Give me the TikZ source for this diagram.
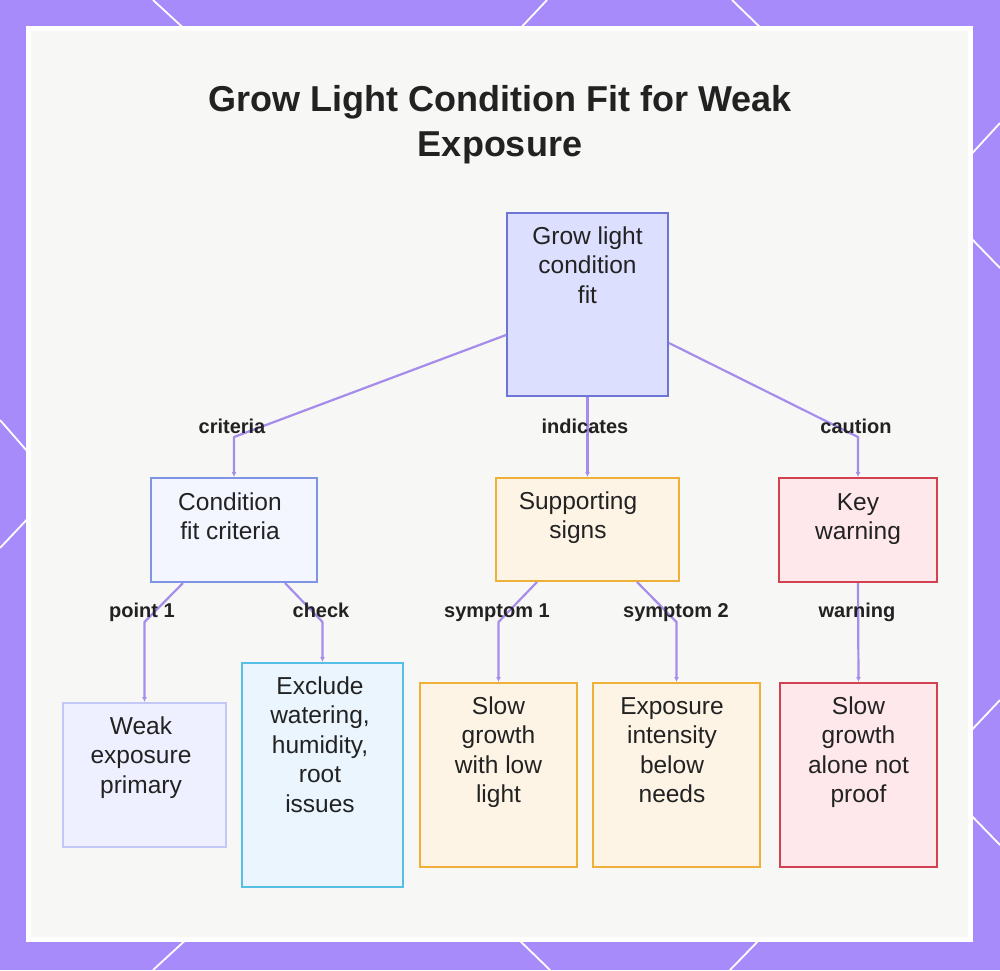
\documentclass[tikz,border=0pt]{standalone}
\usepackage{fontspec}
\setmainfont{Liberation Sans}
\usetikzlibrary{arrows.meta,calc}
\definecolor{framec}{HTML}{A78BFA}
\definecolor{panelbg}{HTML}{F7F7F5}
\definecolor{ink}{HTML}{222222}
\definecolor{edgec}{HTML}{A68CEB}
\tikzset{
  box/.style={line width=2pt, inner sep=0pt, outer sep=1pt},
  lavbox/.style={box, fill=lavfill, draw=lavdraw},
  bluebox/.style={box, fill=bluefill, draw=bluedraw},
  ambbox/.style={box, fill=ambfill, draw=ambdraw},
  redbox/.style={box, fill=redfill, draw=reddraw},
  palebox/.style={box, fill=palefill, draw=paledraw},
  skybox/.style={box, fill=skyfill, draw=skydraw},
  txt/.style={font=\fontsize{24.5}{29.5}\selectfont, text=ink, align=flush center, text width=160pt, anchor=base, inner sep=0pt},
  lbl/.style={font=\bfseries\fontsize{20}{24}\selectfont, text=ink, anchor=base, inner sep=0pt},
  conn/.style={draw=edgec, line width=2.2pt, line join=round, -{Latex[length=5pt,width=5pt]}},
  hexline/.style={draw=white, line width=1.8pt},
}
\definecolor{lavfill}{HTML}{DCDFFD}
\definecolor{lavdraw}{HTML}{6E75D6}
\definecolor{bluefill}{HTML}{F4F6FF}
\definecolor{bluedraw}{HTML}{7F95E4}
\definecolor{ambfill}{HTML}{FEF4E6}
\definecolor{ambdraw}{HTML}{EFB03A}
\definecolor{redfill}{HTML}{FFE8EB}
\definecolor{reddraw}{HTML}{D2414F}
\definecolor{palefill}{HTML}{EEF0FF}
\definecolor{paledraw}{HTML}{C3C8F7}
\definecolor{skyfill}{HTML}{EAF5FE}
\definecolor{skydraw}{HTML}{55BFE6}
\begin{document}
\begin{tikzpicture}[x=1pt,y=-1pt]
\useasboundingbox (0,0) rectangle (1000,970);
% frame
\fill[framec] (0,0) rectangle (1000,970);
\draw[hexline] (153,0) -- (190,34);
\draw[hexline] (547,0) -- (515,34);
\draw[hexline] (732,0) -- (767,34);
\draw[hexline] (153,970) -- (190,936);
\draw[hexline] (550,970) -- (515,936);
\draw[hexline] (730,970) -- (763,936);
\draw[hexline] (0,420) -- (34,459);
\draw[hexline] (0,548) -- (34,512);
\draw[hexline] (1000,123) -- (966,160);
\draw[hexline] (1000,268) -- (966,233);
\draw[hexline] (1000,700) -- (966,736);
\draw[hexline] (1000,845) -- (966,810);
% panel
\fill[white] (26,26) rectangle (973,942);
\fill[panelbg] (31,31) rectangle (968,937);
% title
\node[font=\bfseries\fontsize{36}{45}\selectfont, text=ink, align=flush center, text width=700pt, anchor=base, inner sep=0pt] (title) at (500,111) {Grow Light Condition Fit for Weak\\Exposure};
% boxes
\node[lavbox, minimum width=161pt, minimum height=183pt] (root) at (587.5,304.5) {};
\node[bluebox, minimum width=166pt, minimum height=104pt] (cond) at (234,530) {};
\node[ambbox, minimum width=183pt, minimum height=103pt] (supp) at (587.5,529.5) {};
\node[redbox, minimum width=158pt, minimum height=104pt] (key) at (858,530) {};
\node[palebox, minimum width=163pt, minimum height=144pt] (weak) at (144.5,775) {};
\node[skybox, minimum width=161pt, minimum height=224pt] (excl) at (322.5,775) {};
\node[ambbox, minimum width=157pt, minimum height=184pt] (slow) at (498.5,775) {};
\node[ambbox, minimum width=167pt, minimum height=184pt] (expo) at (676.5,775) {};
\node[redbox, minimum width=157pt, minimum height=184pt] (alone) at (858.5,775) {};
% box texts
\node[txt] (rootT) at (587.5,244) {Grow light\\condition\\fit};
\node[txt] (condT) at (230,510) {Condition\\fit criteria};
\node[txt] (suppT) at (578,509) {Supporting\\signs};
\node[txt] (keyT) at (858,510) {Key\\warning};
\node[txt] (weakT) at (141,734) {Weak\\exposure\\primary};
\node[txt] (exclT) at (320,694) {Exclude\\watering,\\humidity,\\root\\issues};
\node[txt] (slowT) at (498.5,714) {Slow\\growth\\with low\\light};
\node[txt] (expoT) at (672,714) {Exposure\\intensity\\below\\needs};
\node[txt] (aloneT) at (858.5,714) {Slow\\growth\\alone not\\proof};
% connectors
\draw[conn] (root.west |- 0,335) -- (cond.north |- 0,437) -- (cond.north);
\draw[conn] (root.south) -- (supp.north);
\draw[conn] (root.east |- 0,343) -- (key.north |- 0,437) -- (key.north);
\draw[conn] ([xshift=-51pt]cond.south) -- (weak.north |- 0,622) -- (weak.north);
\draw[conn] ([xshift=51pt]cond.south) -- (excl.north |- 0,622) -- (excl.north);
\draw[conn] ([xshift=-50.5pt]supp.south) -- (slow.north |- 0,622) -- (slow.north);
\draw[conn] ([xshift=49.5pt]supp.south) -- (expo.north |- 0,622) -- (expo.north);
\draw[conn] (key.south) -- (alone.north);
% labels
\node[lbl] (l1) at (232,433) {criteria};
\node[lbl] (l2) at (585,433) {indicates};
\node[lbl] (l3) at (856,433) {caution};
\node[lbl] (l4) at (142,617) {point 1};
\node[lbl] (l5) at (321,617) {check};
\node[lbl] (l6) at (497,617) {symptom 1};
\node[lbl] (l7) at (676,617) {symptom 2};
\node[lbl] (l8) at (857,617) {warning};
\end{tikzpicture}
\end{document}
